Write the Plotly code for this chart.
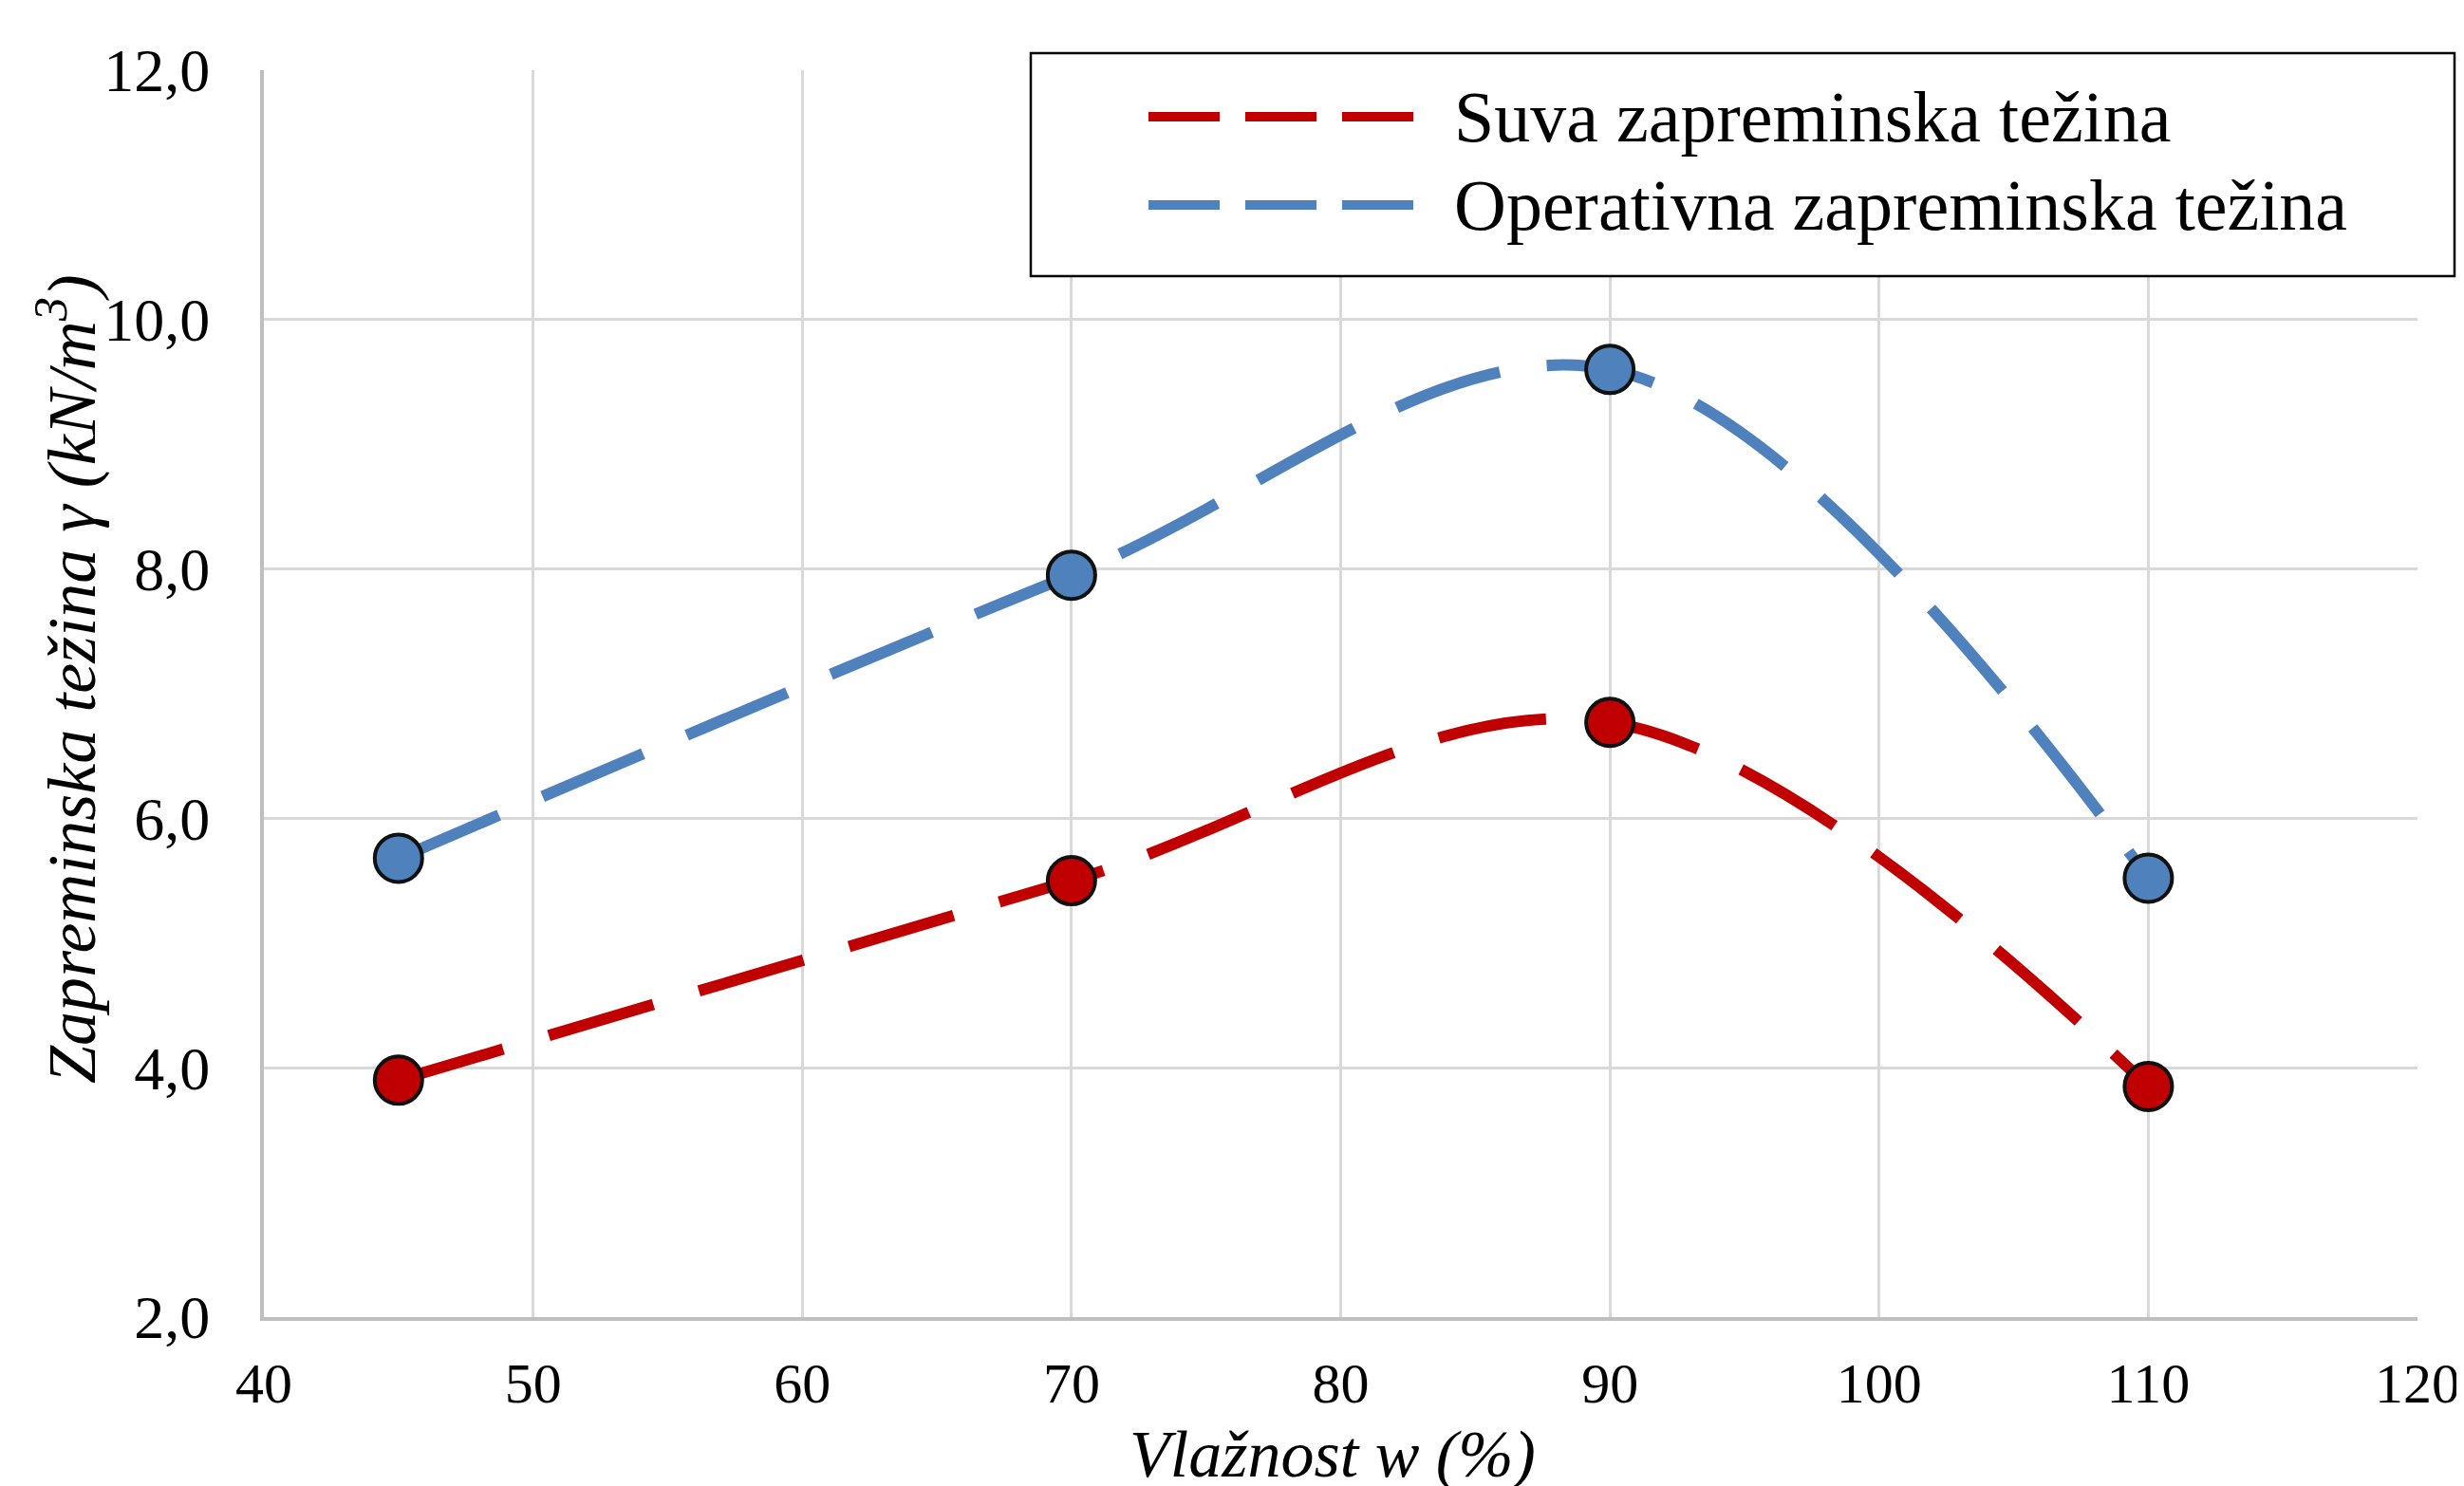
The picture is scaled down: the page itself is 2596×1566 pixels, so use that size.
import plotly.graph_objects as go

# ---- data ----
moisture = [45, 70, 90, 110]
dry_weight = [3.9, 5.5, 6.77, 3.85]
operative_weight = [5.68, 7.95, 9.6, 5.52]
series_names = ["Suva zapreminska težina", "Operativna zapreminska težina"]
y_ticks = [2, 4, 6, 8, 10, 12]
x_ticks = [40, 50, 60, 70, 80, 90, 100, 110, 120]

RED = "#C00000"
BLUE = "#4F81BD"
FONT = "Liberation Serif"

W, H = 2596, 1566
L, R, T, B = 270, 2539, 66, 1380


def px(x):
    return (x - L) / (R - L)


def py(y):
    return (B - y) / (B - T)


fig = go.Figure()
for yvals, color, name in [(dry_weight, RED, series_names[0]),
                           (operative_weight, BLUE, series_names[1])]:
    fig.add_trace(go.Scatter(
        x=moisture, y=yvals, name=name,
        mode="lines+markers",
        line=dict(color=color, width=12, dash="115px,50px", shape="spline", smoothing=1.0),
        marker=dict(size=50, color=color, line=dict(color="#111111", width=4)),
        showlegend=False,
    ))

shapes = []
annotations = []

# legend box
shapes.append(dict(type="rect", xref="paper", yref="paper",
                   x0=px(1078), x1=px(2578), y0=py(283), y1=py(48),
                   line=dict(color="#000000", width=2.5), fillcolor="white", layer="above"))
for yy, color, name in [(115, RED, series_names[0]), (208, BLUE, series_names[1])]:
    shapes.append(dict(type="line", xref="paper", yref="paper",
                       x0=px(1202), x1=px(1482), y0=py(yy), y1=py(yy),
                       line=dict(color=color, width=10, dash="75px,27px"), layer="above"))
    annotations.append(dict(xref="paper", yref="paper", x=px(1522), y=py(yy),
                            xanchor="left", yanchor="middle", showarrow=False,
                            text=name, font=dict(family=FONT, size=76, color="#000000")))

# axis titles
annotations.append(dict(xref="paper", yref="paper", x=px(62), y=py(708),
                        xanchor="center", yanchor="middle", showarrow=False, textangle=-90,
                        text="<i>Zapreminska težina γ (kN/m<sup>3</sup>)</i>",
                        font=dict(family=FONT, size=72, color="#000000")))
annotations.append(dict(xref="paper", yref="paper", x=px(1396), y=py(1524),
                        xanchor="center", yanchor="middle", showarrow=False,
                        text="<i>Vlažnost w (%)</i>",
                        font=dict(family=FONT, size=70, color="#000000")))

fig.update_layout(
    width=W, height=H,
    margin=dict(l=L, r=W - R, t=T, b=H - B, autoexpand=False),
    paper_bgcolor="white", plot_bgcolor="white",
    separators=", ",
    shapes=shapes, annotations=annotations,
    font=dict(family=FONT, color="#000000"),
)
fig.update_xaxes(
    range=[40, 120], tickvals=x_ticks, ticktext=[str(v) for v in x_ticks],
    showgrid=True, gridcolor="#d9d9d9", gridwidth=3,
    showline=True, linecolor="#bfbfbf", linewidth=4,
    ticks="", ticklabelstandoff=14,
    tickfont=dict(family=FONT, size=60, color="#000000"),
    zeroline=False,
)
fig.update_yaxes(
    range=[2, 12], tickvals=y_ticks, tickformat=".1f",
    showgrid=True, gridcolor="#d9d9d9", gridwidth=3,
    showline=True, linecolor="#bfbfbf", linewidth=4,
    ticks="", ticklabelstandoff=40,
    tickfont=dict(family=FONT, size=64, color="#000000"),
    zeroline=False,
)

fig.write_html("out.html")
